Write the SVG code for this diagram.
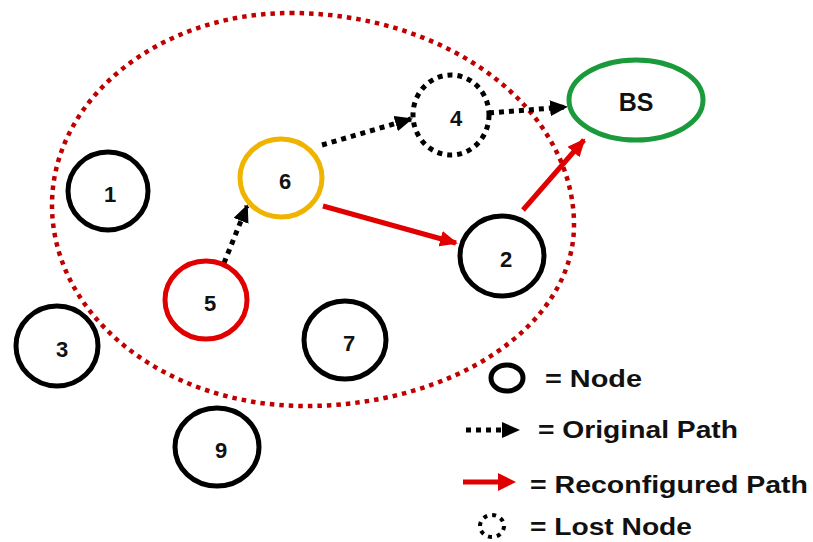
<svg xmlns="http://www.w3.org/2000/svg" width="813" height="542" viewBox="0 0 813 542">
  <style>
    .node { fill: none; stroke: #000; stroke-width: 5; }
    .lost { fill: none; stroke: #000; stroke-width: 5; stroke-dasharray: 5 5; }
    .lbl { font-family: "Liberation Sans", Arial, sans-serif; font-weight: bold; font-size: 22px; fill: #111; text-anchor: middle; }
    .leg { font-family: "Liberation Sans", Arial, sans-serif; font-weight: bold; font-size: 23px; fill: #111; }
    .orig { fill: none; stroke: #000; stroke-width: 5; stroke-dasharray: 5 5; }
    .reconf { fill: none; stroke: #e00000; stroke-width: 5; }
  </style>
  <defs>
    <marker id="headBlack" markerUnits="userSpaceOnUse" markerWidth="18" markerHeight="16" refX="16" refY="8" orient="auto">
      <path d="M0,0 L18,8 L0,16 Z" fill="#000"/>
    </marker>
    <marker id="headRed" markerUnits="userSpaceOnUse" markerWidth="18" markerHeight="16" refX="16" refY="8" orient="auto">
      <path d="M0,0 L18,8 L0,16 Z" fill="#e00000"/>
    </marker>
  </defs>

  <!-- coverage area (slightly egg-shaped loop) -->
  <path id="range" d="M290,13 C447,13 574,108 574,225 C574,325 454,406 305,406 C165,406 52,316 52,205 C52,99 159,13 290,13 Z"
        fill="none" stroke="#c00000" stroke-width="4.5" stroke-dasharray="4.5 5"/>

  <!-- connectors -->
  <g id="connectors">
    <line class="orig" x1="224" y1="263" x2="247" y2="206" marker-end="url(#headBlack)"/>
    <line class="orig" x1="322" y1="145" x2="411" y2="119" marker-end="url(#headBlack)"/>
    <line class="orig" x1="489" y1="113" x2="566" y2="107" marker-end="url(#headBlack)"/>
    <line class="reconf" x1="323" y1="206" x2="456" y2="243" marker-end="url(#headRed)"/>
    <line class="reconf" x1="523" y1="210" x2="584" y2="140" marker-end="url(#headRed)"/>
  </g>

  <!-- nodes -->
  <g id="node1"><ellipse class="node" cx="108" cy="191" rx="40" ry="39"/><text class="lbl" x="110" y="202">1</text></g>
  <g id="node2"><ellipse class="node" cx="502" cy="256" rx="42" ry="40"/><text class="lbl" x="506" y="267">2</text></g>
  <g id="node3"><ellipse class="node" cx="57" cy="346" rx="41" ry="40"/><text class="lbl" x="62" y="357">3</text></g>
  <g id="node4"><ellipse class="lost" cx="451" cy="115" rx="38" ry="40"/><text class="lbl" x="456" y="126">4</text></g>
  <g id="node5"><ellipse class="node" cx="206" cy="300" rx="41" ry="39" style="stroke:#e00000"/><text class="lbl" x="210" y="311">5</text></g>
  <g id="node6"><ellipse class="node" cx="281" cy="178" rx="41" ry="39" style="stroke:#f0b400"/><text class="lbl" x="285" y="189">6</text></g>
  <g id="node7"><ellipse class="node" cx="345" cy="340" rx="41" ry="39"/><text class="lbl" x="349" y="351">7</text></g>
  <g id="node9"><ellipse class="node" cx="217" cy="447" rx="42" ry="39"/><text class="lbl" x="221" y="458">9</text></g>
  <g id="nodeBS"><ellipse class="node" cx="636" cy="100" rx="67" ry="40" style="stroke:#1a9a3a"/><text class="lbl" x="636" y="111" style="font-size:25px">BS</text></g>

  <!-- legend -->
  <g id="legend">
    <ellipse class="node" cx="507" cy="378" rx="16" ry="13"/>
    <text class="leg" x="545" y="387" textLength="97" lengthAdjust="spacingAndGlyphs">= Node</text>
    <line class="orig" x1="466" y1="430" x2="506" y2="430"/>
    <path d="M502,422 L520,430 L502,438 Z" fill="#000"/>
    <text class="leg" x="538" y="438" textLength="200" lengthAdjust="spacingAndGlyphs">= Original Path</text>
    <line class="reconf" x1="463" y1="482" x2="502" y2="482"/>
    <path d="M498,473 L516,482 L498,491 Z" fill="#e00000"/>
    <text class="leg" x="530" y="493" textLength="278" lengthAdjust="spacingAndGlyphs">= Reconfigured Path</text>
    <ellipse class="lost" cx="492" cy="526" rx="12" ry="11" style="stroke-width:4;stroke-dasharray:4 5"/>
    <text class="leg" x="530" y="535" textLength="162" lengthAdjust="spacingAndGlyphs">= Lost Node</text>
  </g>
</svg>
